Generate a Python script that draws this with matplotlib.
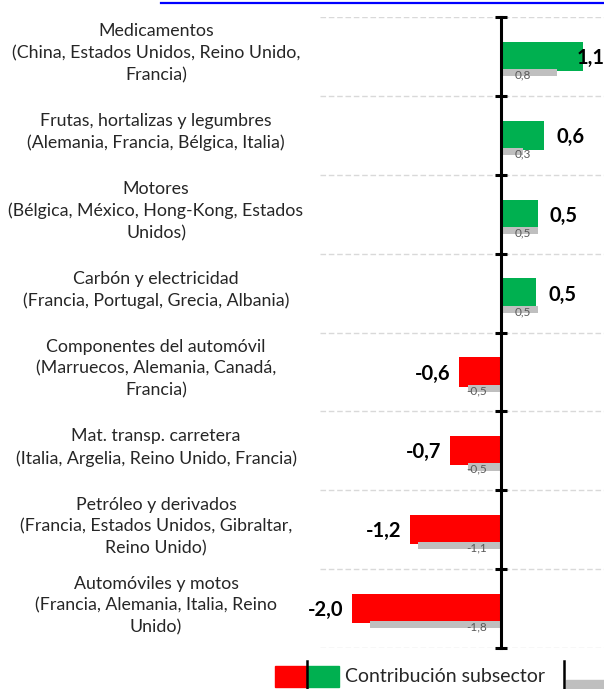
import matplotlib
matplotlib.use("Agg")
import matplotlib.pyplot as plt
import matplotlib.transforms as mtransforms
from matplotlib.patches import Rectangle
from matplotlib.lines import Line2D

plt.rcParams['font.family'] = ['Lato', 'DejaVu Sans']

# DATA
categorias = [
    "Medicamentos\n(China, Estados Unidos, Reino Unido,\nFrancia)",
    "Frutas, hortalizas y legumbres\n(Alemania, Francia, Bélgica, Italia)",
    "Motores\n(Bélgica, México, Hong-Kong, Estados\nUnidos)",
    "Carbón y electricidad\n(Francia, Portugal, Grecia, Albania)",
    "Componentes del automóvil\n(Marruecos, Alemania, Canadá,\nFrancia)",
    "Mat. transp. carretera\n(Italia, Argelia, Reino Unido, Francia)",
    "Petróleo y derivados\n(Francia, Estados Unidos, Gibraltar,\nReino Unido)",
    "Automóviles y motos\n(Francia, Alemania, Italia, Reino\nUnido)",
]
contribucion = [1.1, 0.58, 0.49, 0.47, -0.56, -0.69, -1.22, -2.0]
etiq_contrib = ["1,1", "0,6", "0,5", "0,5", "-0,6", "-0,7", "-1,2", "-2,0"]
anterior = [0.75, 0.3, 0.49, 0.5, -0.45, -0.45, -1.11, -1.76]
etiq_anterior = ["0,8", "0,3", "0,5", "0,5", "-0,5", "-0,5", "-1,1", "-1,8"]

ROJO = "#FF0000"
VERDE = "#00B050"
GRIS = "#BFBFBF"

W, H = 604, 689
fig = plt.figure(figsize=(W / 100, H / 100), dpi=100)
ax = fig.add_axes([320 / W, 1 - 648 / H, 1 - 320 / W, (648 - 17) / H])

n = len(categorias)
pos = [i + 0.5 for i in range(n)]
colores = [VERDE if v >= 0 else ROJO for v in contribucion]

ax.barh(pos, contribucion, height=0.37, color=colores, zorder=2)
pos_gris = [p + 0.205 for p in pos]
ax.barh(pos_gris, anterior, height=0.09, color=GRIS, zorder=3)

ax.set_xlim(-2.43, 1.38)
ax.set_ylim(n, 0)

# value labels
for p, v, t in zip(pos, contribucion, etiq_contrib):
    if v >= 0:
        ax.text(min(v + 0.16, 1.02), p + 0.02, t, ha='left', va='center',
                fontsize=14.5, fontweight='bold', zorder=5)
    else:
        ax.text(v - 0.12, p + 0.02, t, ha='right', va='center',
                fontsize=14.5, fontweight='bold', zorder=5)

for p, v, t in zip(pos_gris, anterior, etiq_anterior):
    if v >= 0:
        ax.text(0.18, p + 0.03, t, ha='left', va='center', fontsize=8.5,
                color='#595959', zorder=5)
    else:
        ax.text(-0.19, p + 0.03, t, ha='right', va='center', fontsize=8.5,
                color='#595959', zorder=5)

# category labels at the left of the figure
trans = mtransforms.blended_transform_factory(fig.transFigure, ax.transData)
for p, c in zip(pos, categorias):
    ax.text(156 / W, p - 0.04, c, transform=trans, ha='center', va='center',
            fontsize=12.8, linespacing=1.44, color='#262626')

# gridlines at category boundaries
for b in range(n + 1):
    ax.axhline(b, color='#D9D9D9', lw=1, ls=(0, (4, 2)), zorder=1)

# axis at zero with crossing ticks
for s in ['top', 'right', 'bottom']:
    ax.spines[s].set_visible(False)
ax.spines['left'].set_position(('data', 0))
ax.spines['left'].set_linewidth(2.2)
ax.spines['left'].set_zorder(4)
ax.set_yticks(range(n + 1))
ax.set_yticklabels([])
ax.tick_params(axis='y', direction='inout', length=9, width=2.2)
ax.set_xticks([])

# legend (drawn by hand, partly cut at the bottom like the original)
def fx(x):
    return x / W

def fy(y):
    return 1 - y / H

fig.add_artist(Rectangle((fx(275), fy(687)), fx(32), 21 / H, color=ROJO,
                         transform=fig.transFigure))
fig.add_artist(Rectangle((fx(307), fy(687)), fx(32), 21 / H, color=VERDE,
                         transform=fig.transFigure))
fig.add_artist(Line2D([fx(307), fx(307)], [fy(661), fy(689)], color='black',
                      lw=1.8, transform=fig.transFigure))
fig.text(fx(345), fy(677), "Contribución subsector", ha='left', va='center',
         fontsize=14, color='#262626')
fig.add_artist(Line2D([fx(564), fx(564)], [fy(661), fy(689)], color='black',
                      lw=1.8, transform=fig.transFigure))
fig.add_artist(Rectangle((fx(566), fy(689)), fx(38), 9 / H, color=GRIS,
                         transform=fig.transFigure))

# blue hyperlink underline cut at the top
fig.add_artist(Line2D([fx(161), fx(604)], [fy(3), fy(3)], color='#0000FF',
                      lw=1.6, transform=fig.transFigure))

fig.savefig("out.png", dpi=100)
